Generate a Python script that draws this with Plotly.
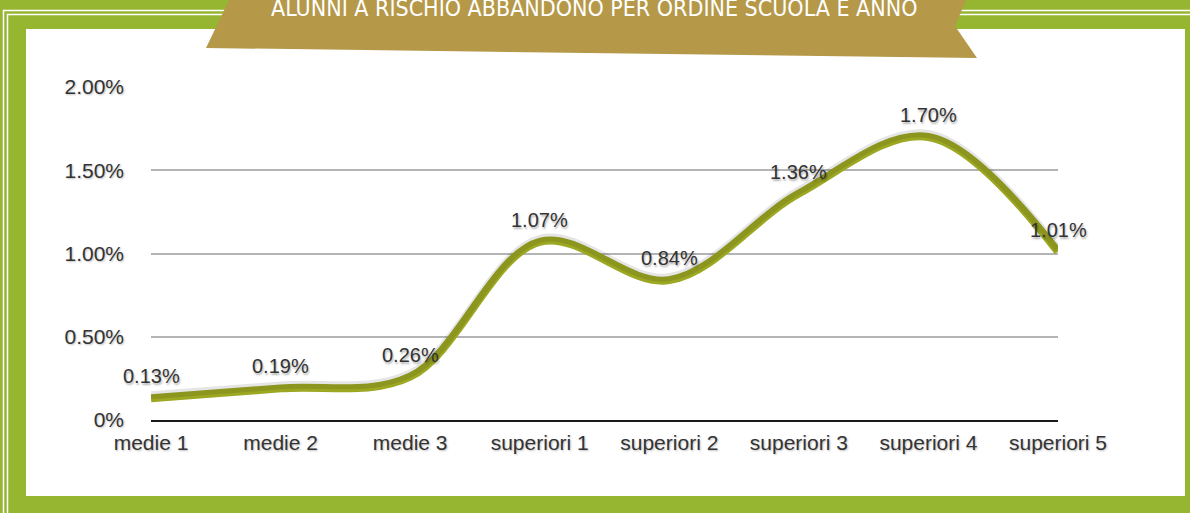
import plotly.graph_objects as go

categories = ["medie 1", "medie 2", "medie 3", "superiori 1", "superiori 2",
              "superiori 3", "superiori 4", "superiori 5"]
values = [0.13, 0.19, 0.26, 1.07, 0.84, 1.36, 1.70, 1.01]
value_labels = ["0.13%", "0.19%", "0.26%", "1.07%", "0.84%", "1.36%", "1.70%", "1.01%"]
ytick_vals = [0, 0.5, 1.0, 1.5, 2.0]
ytick_text = ["0%", "0.50%", "1.00%", "1.50%", "2.00%"]
title_text = "ALUNNI A RISCHIO ABBANDONO PER ORDINE SCUOLA E ANNO"

W, H = 1190, 513
L, R, T, B = 151, 1058, 87, 420  # plot area in pixels
GREEN = "#96b632"
GOLD = "#b59848"
LINE = "#9ca722"
TXT = "#333333"
FONT = "Liberation Sans, Arial, sans-serif"


def px(x):
    return (x - L) / (R - L)


def py(y):
    return (B - y) / (B - T)


fig = go.Figure()

# soft shadow under the line (overlaid axis shifted by ~3px)
fig.add_trace(go.Scatter(
    x=categories, y=values, mode="lines", yaxis="y2",
    line=dict(color="rgba(0,0,0,0.10)", width=8, shape="spline", smoothing=1.0),
    hoverinfo="skip", showlegend=False))

fig.add_trace(go.Scatter(
    x=categories, y=values, mode="lines",
    line=dict(color=LINE, width=8, shape="spline", smoothing=1.0),
    showlegend=False))

shapes = []
# white panel
shapes.append(dict(type="rect", xref="paper", yref="paper", layer="below",
                   x0=px(26), x1=px(1185), y0=py(496), y1=py(29),
                   fillcolor="white", line=dict(width=0)))
# double frame lines
for off in (3.5, 7.5):
    shapes.append(dict(type="path", xref="paper", yref="paper", layer="below",
                       path=f"M {px(off)} {py(H + 5)} L {px(off)} {py(off + 7)} L {px(W + 5)} {py(off + 7)}",
                       line=dict(color="white", width=1.5)))
# banner ribbon
pts = [(230, -2), (967, -2), (955, 26), (977, 58), (206, 48)]
path = "M " + " L ".join(f"{px(x)} {py(y)}" for x, y in pts) + " Z"
shapes.append(dict(type="path", xref="paper", yref="paper", layer="below",
                   path=path, fillcolor=GOLD, line=dict(width=0)))

annotations = []
for c, v, t in zip(categories, values, value_labels):
    annotations.append(dict(
        x=c, y=v, xref="x", yref="y", text=t, showarrow=False,
        yshift=22, font=dict(family=FONT, size=20, color=TXT,
                             shadow="1px 2px 2px rgba(0,0,0,0.30)")))

annotations.append(dict(
    x=px(593.5), y=py(8), xref="paper", yref="paper", text=title_text,
    showarrow=False, xanchor="center", yanchor="middle",
    font=dict(family="Liberation Sans Narrow, DejaVu Sans Condensed, Arial Narrow, sans-serif",
              size=23, color="white")))

fig.update_layout(
    width=W, height=H,
    margin=dict(l=L, r=W - R, t=T, b=H - B, pad=0),
    paper_bgcolor=GREEN, plot_bgcolor="white",
    shapes=shapes, annotations=annotations,
    xaxis=dict(type="category", range=[0, len(categories) - 1],
               showgrid=False, zeroline=False,
               showline=True, linecolor="#1a1a1a", linewidth=2,
               ticks="", ticklabelstandoff=3,
               tickfont=dict(family=FONT, size=21, color=TXT,
                             shadow="1px 1px 2px rgba(0,0,0,0.25)")),
    yaxis=dict(range=[0, 2], tickvals=ytick_vals, ticktext=ytick_text,
               showgrid=True, gridcolor="#b4b4b4", gridwidth=1.5,
               zeroline=False, showline=False, ticks="",
               ticklabelstandoff=26,
               tickfont=dict(family=FONT, size=21, color=TXT,
                             shadow="1px 1px 2px rgba(0,0,0,0.25)")),
    yaxis2=dict(range=[-0.018, 1.982], overlaying="y", visible=False),
)

fig.write_html("out.html", config={"displayModeBar": False},
               post_script="document.body.style.margin='0';document.body.style.overflow='hidden';")
